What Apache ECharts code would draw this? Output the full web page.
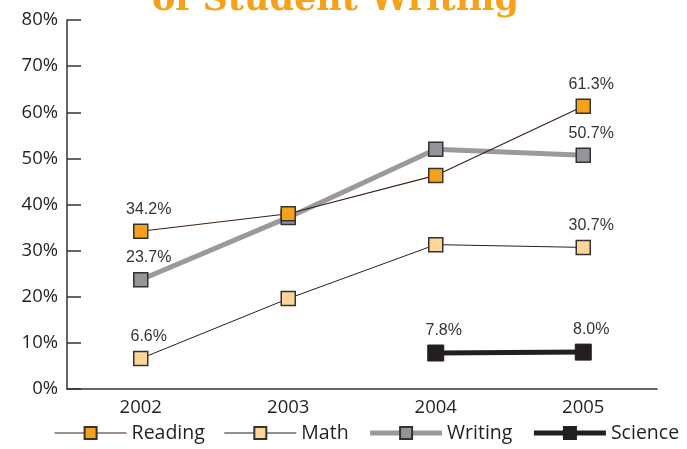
<!DOCTYPE html>
<html><head><meta charset="utf-8">
<script src="https://cdn.jsdelivr.net/npm/echarts@6/dist/echarts.min.js"></script>
<style>html,body{margin:0;padding:0;background:#fff}#c{width:687px;height:449px}</style>
</head><body><div id="c"></div>
<script>
const years = ['2002','2003','2004','2005'];
const reading = [34.2, 38.0, 46.3, 61.3];
const math = [6.6, 19.6, 31.3, 30.7];
const writing = [23.7, 37.2, 52.0, 50.7];
const science = [null, null, 7.8, 8.0];
const yTicks = [0,10,20,30,40,50,60,70,80];
const titleText = 'of Student Writing';

function withEndLabels(arr, idxs){
  return arr.map((v,i)=> idxs.includes(i) ? {value:v, label:{show:true}} : v);
}
const labelStyle = {show:false, position:'top', distance:6, offset:[8,0], color:'#333', fontSize:16, fontFamily:'Liberation Sans, Arial, sans-serif', formatter: p => p.value.toFixed(1)+'%'};
const axisFont = '"Open Sans", sans-serif';

const chart = echarts.init(document.getElementById('c'));
chart.setOption({
  animation:false,
  graphic:[{type:'text', left:152, top:-17, style:{text:titleText, fill:'#F7A11A', font:'bold 35px "DejaVu Serif"'}}],
  grid:{left:67, right:30, top:20, bottom:60},
  legend:{bottom:1, left:49, itemWidth:72, itemHeight:15, itemGap:19,
    data:[
      {name:'Reading', lineStyle:{width:1.2}},
      {name:'Math', lineStyle:{width:1}},
      {name:'Writing', lineStyle:{width:5}},
      {name:'Science', lineStyle:{width:5}}
    ],
    textStyle:{fontSize:19.5, color:'#231f20', fontFamily:axisFont}},
  xAxis:{type:'category', data:years, boundaryGap:true,
    axisLine:{lineStyle:{color:'#333', width:1.5}},
    axisTick:{inside:true, length:8, lineStyle:{color:'#333', width:1.5}},
    axisLabel:{fontSize:18.5, color:'#231f20', margin:9, fontFamily:axisFont}},
  yAxis:{type:'value', min:0, max:80, interval:10,
    axisLine:{show:true, lineStyle:{color:'#333', width:1.5}},
    axisTick:{show:true, inside:true, length:14, lineStyle:{color:'#333', width:1.5}},
    splitLine:{show:false},
    axisLabel:{fontSize:18.5, color:'#231f20', margin:9, fontFamily:axisFont,
      formatter: v => yTicks.includes(v) ? v+'%' : ''}},
  series:[
    {name:'Writing', type:'line', data:withEndLabels(writing,[0,3]), symbol:'rect', symbolSize:14,
     lineStyle:{color:'#9a9a9c', width:5}, itemStyle:{color:'#939598', borderColor:'#333', borderWidth:1.5},
     label:labelStyle, z:2},
    {name:'Reading', type:'line', data:withEndLabels(reading,[0,3]), symbol:'rect', symbolSize:14,
     lineStyle:{color:'#3b2314', width:1.2}, itemStyle:{color:'#F7A11A', borderColor:'#333', borderWidth:1.5},
     label:labelStyle, z:3},
    {name:'Math', type:'line', data:withEndLabels(math,[0,3]), symbol:'rect', symbolSize:14,
     lineStyle:{color:'#231f20', width:1}, itemStyle:{color:'#FDD49A', borderColor:'#333', borderWidth:1.5},
     label:labelStyle, z:3},
    {name:'Science', type:'line', data:withEndLabels(science,[2,3]), symbol:'rect', symbolSize:16,
     lineStyle:{color:'#231f20', width:5}, itemStyle:{color:'#231f20', borderColor:'#231f20', borderWidth:1},
     label:labelStyle, z:4}
  ]
});
</script></body></html>
